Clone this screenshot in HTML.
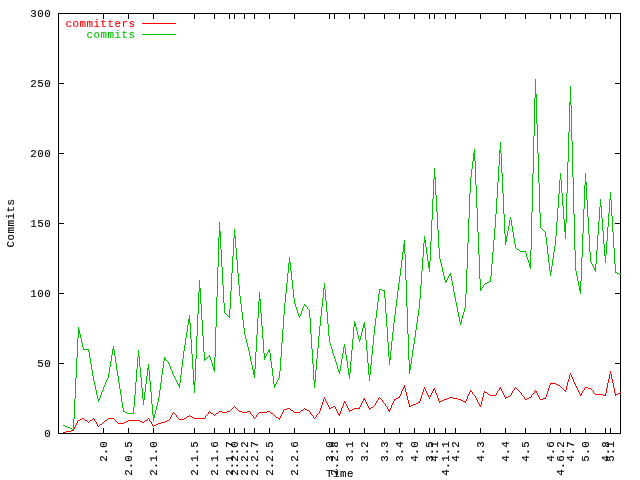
<!DOCTYPE html>
<html><head><meta charset="utf-8"><title>Commits</title>
<style>html,body{margin:0;padding:0;background:#fff}svg{display:block}text{font-family:"Liberation Mono",monospace;font-size:10.8px;letter-spacing:0.52px;fill:#000;stroke:#000;stroke-width:0.12px}</style></head>
<body>
<svg width="640" height="480" viewBox="0 0 640 480">
<rect width="640" height="480" fill="#fff"/>
<g transform="translate(0.5,0.5)" fill="none" stroke-width="1" shape-rendering="crispEdges">
<rect x="58" y="13" width="562" height="420" stroke="#000"/>
</g><g fill="#000" shape-rendering="crispEdges">
<path d="M59 433h5v1h-5zM615 433h5v1h-5zM59 363h5v1h-5zM615 363h5v1h-5zM59 293h5v1h-5zM615 293h5v1h-5zM59 223h5v1h-5zM615 223h5v1h-5zM59 153h5v1h-5zM615 153h5v1h-5zM59 83h5v1h-5zM615 83h5v1h-5zM59 13h5v1h-5zM615 13h5v1h-5zM103 428h1v5h-1zM103 14h1v5h-1zM128 428h1v5h-1zM128 14h1v5h-1zM153 428h1v5h-1zM153 14h1v5h-1zM194 428h1v5h-1zM194 14h1v5h-1zM214 428h1v5h-1zM214 14h1v5h-1zM229 428h1v5h-1zM229 14h1v5h-1zM234 428h1v5h-1zM234 14h1v5h-1zM244 428h1v5h-1zM244 14h1v5h-1zM254 428h1v5h-1zM254 14h1v5h-1zM269 428h1v5h-1zM269 14h1v5h-1zM294 428h1v5h-1zM294 14h1v5h-1zM329 428h1v5h-1zM329 14h1v5h-1zM334 428h1v5h-1zM334 14h1v5h-1zM349 428h1v5h-1zM349 14h1v5h-1zM364 428h1v5h-1zM364 14h1v5h-1zM384 428h1v5h-1zM384 14h1v5h-1zM399 428h1v5h-1zM399 14h1v5h-1zM414 428h1v5h-1zM414 14h1v5h-1zM429 428h1v5h-1zM429 14h1v5h-1zM434 428h1v5h-1zM434 14h1v5h-1zM445 428h1v5h-1zM445 14h1v5h-1zM455 428h1v5h-1zM455 14h1v5h-1zM480 428h1v5h-1zM480 14h1v5h-1zM505 428h1v5h-1zM505 14h1v5h-1zM525 428h1v5h-1zM525 14h1v5h-1zM550 428h1v5h-1zM550 14h1v5h-1zM560 428h1v5h-1zM560 14h1v5h-1zM570 428h1v5h-1zM570 14h1v5h-1zM585 428h1v5h-1zM585 14h1v5h-1zM605 428h1v5h-1zM605 14h1v5h-1zM610 428h1v5h-1zM610 14h1v5h-1z"/>
<path fill="#ff0000" d="M66 431h3v1h-3zM63 432h3v1h-3zM71 430h3v1h-3zM68 431h3v1h-3zM73 429h1v2h-1zM74 427h1v2h-1zM75 425h1v2h-1zM76 423h1v2h-1zM77 421h1v2h-1zM78 420h1v1h-1zM82 418h2v1h-2zM80 419h2v1h-2zM78 420h2v1h-2zM83 418h1v1h-1zM84 419h1v1h-1zM85 420h2v1h-2zM87 421h1v1h-1zM88 422h1v1h-1zM93 418h1v1h-1zM92 419h1v1h-1zM90 420h2v1h-2zM89 421h1v1h-1zM88 422h1v1h-1zM93 418h1v1h-1zM94 419h1v2h-1zM95 421h1v1h-1zM96 422h1v2h-1zM97 424h1v2h-1zM98 426h1v1h-1zM103 422h1v1h-1zM102 423h1v1h-1zM100 424h2v1h-2zM99 425h1v1h-1zM98 426h1v1h-1zM108 418h1v1h-1zM107 419h1v1h-1zM105 420h2v1h-2zM104 421h1v1h-1zM103 422h1v1h-1zM108 418h6v1h-6zM113 418h1v1h-1zM114 419h1v1h-1zM115 420h1v1h-1zM116 421h1v1h-1zM117 422h1v1h-1zM118 423h1v1h-1zM118 423h6v1h-6zM128 420h1v1h-1zM126 421h2v1h-2zM124 422h2v1h-2zM123 423h1v1h-1zM128 420h6v1h-6zM133 420h6v1h-6zM138 420h2v1h-2zM140 421h2v1h-2zM142 422h2v1h-2zM148 418h1v1h-1zM147 419h1v1h-1zM145 420h2v1h-2zM144 421h1v1h-1zM143 422h1v1h-1zM148 418h1v1h-1zM149 419h1v2h-1zM150 421h1v1h-1zM151 422h1v2h-1zM152 424h1v2h-1zM153 426h1v1h-1zM158 423h1v1h-1zM156 424h2v1h-2zM154 425h2v1h-2zM153 426h1v1h-1zM161 422h4v1h-4zM158 423h3v1h-3zM169 419h1v1h-1zM167 420h2v1h-2zM165 421h2v1h-2zM164 422h1v1h-1zM169 419h1v1h-1zM170 417h1v2h-1zM171 415h1v2h-1zM172 413h1v2h-1zM173 412h1v1h-1zM173 412h1v1h-1zM174 413h1v1h-1zM175 414h1v1h-1zM176 415h1v2h-1zM177 417h1v1h-1zM178 418h1v1h-1zM179 419h1v1h-1zM179 419h5v1h-5zM189 415h1v1h-1zM187 416h2v1h-2zM186 417h1v1h-1zM184 418h2v1h-2zM183 419h1v1h-1zM189 415h1v1h-1zM190 416h2v1h-2zM192 417h2v1h-2zM194 418h1v1h-1zM194 418h6v1h-6zM199 418h6v1h-6zM204 418h1v1h-1zM205 416h1v2h-1zM206 415h1v1h-1zM207 414h1v1h-1zM208 412h1v2h-1zM209 411h1v1h-1zM209 411h1v1h-1zM210 412h1v1h-1zM211 413h2v1h-2zM213 414h1v1h-1zM214 415h1v1h-1zM219 411h1v1h-1zM218 412h1v1h-1zM216 413h2v1h-2zM215 414h1v1h-1zM214 415h1v1h-1zM219 411h3v1h-3zM222 412h3v1h-3zM227 411h3v1h-3zM224 412h3v1h-3zM234 406h1v1h-1zM233 407h1v1h-1zM232 408h1v1h-1zM231 409h1v1h-1zM230 410h1v1h-1zM229 411h1v1h-1zM234 406h1v1h-1zM235 407h1v1h-1zM236 408h1v1h-1zM237 409h1v1h-1zM238 410h1v1h-1zM239 411h1v1h-1zM239 411h3v1h-3zM242 412h3v1h-3zM247 411h3v1h-3zM244 412h3v1h-3zM249 411h1v1h-1zM250 412h1v2h-1zM251 414h1v1h-1zM252 415h1v1h-1zM253 416h1v2h-1zM254 418h1v1h-1zM254 418h1v1h-1zM255 417h1v1h-1zM256 415h1v2h-1zM257 414h1v1h-1zM258 413h1v1h-1zM259 412h1v1h-1zM259 412h6v1h-6zM267 411h3v1h-3zM264 412h3v1h-3zM269 411h1v1h-1zM270 412h1v1h-1zM271 413h2v1h-2zM273 414h1v1h-1zM274 415h1v1h-1zM274 415h1v1h-1zM275 416h1v1h-1zM276 417h2v1h-2zM278 418h1v1h-1zM279 419h1v1h-1zM279 418h1v2h-1zM280 416h1v2h-1zM281 414h1v2h-1zM282 412h1v2h-1zM283 410h1v2h-1zM284 409h1v1h-1zM287 408h3v1h-3zM284 409h3v1h-3zM289 408h1v1h-1zM290 409h1v1h-1zM291 410h2v1h-2zM293 411h1v1h-1zM294 412h1v1h-1zM294 412h6v1h-6zM304 408h1v1h-1zM303 409h1v1h-1zM301 410h2v1h-2zM300 411h1v1h-1zM299 412h1v1h-1zM304 408h1v1h-1zM305 409h2v1h-2zM307 410h2v1h-2zM309 411h1v1h-1zM309 411h1v1h-1zM310 412h1v2h-1zM311 414h1v1h-1zM312 415h1v1h-1zM313 416h1v2h-1zM314 418h1v1h-1zM314 418h1v1h-1zM315 417h1v1h-1zM316 415h1v2h-1zM317 414h1v1h-1zM318 413h1v1h-1zM319 412h1v1h-1zM319 411h1v2h-1zM320 408h1v3h-1zM321 405h1v3h-1zM322 402h1v3h-1zM323 399h1v3h-1zM324 397h1v2h-1zM324 397h1v2h-1zM325 399h1v2h-1zM326 401h1v2h-1zM327 403h1v2h-1zM328 405h1v2h-1zM329 407h1v2h-1zM333 406h2v1h-2zM331 407h2v1h-2zM329 408h2v1h-2zM334 406h1v1h-1zM335 407h1v2h-1zM336 409h1v2h-1zM337 411h1v2h-1zM338 413h1v2h-1zM339 415h1v1h-1zM339 414h1v2h-1zM340 411h1v3h-1zM341 408h1v3h-1zM342 406h1v2h-1zM343 403h1v3h-1zM344 401h1v2h-1zM344 401h1v1h-1zM345 402h1v2h-1zM346 404h1v2h-1zM347 406h1v2h-1zM348 408h1v2h-1zM349 410h1v2h-1zM354 408h1v1h-1zM352 409h2v1h-2zM350 410h2v1h-2zM349 411h1v1h-1zM354 408h6v1h-6zM359 407h1v2h-1zM360 405h1v2h-1zM361 403h1v2h-1zM362 401h1v2h-1zM363 399h1v2h-1zM364 398h1v1h-1zM364 398h1v2h-1zM365 400h1v2h-1zM366 402h1v2h-1zM367 404h1v2h-1zM368 406h1v2h-1zM369 408h1v2h-1zM374 405h1v1h-1zM373 406h1v1h-1zM371 407h2v1h-2zM370 408h1v1h-1zM369 409h1v1h-1zM374 405h1v1h-1zM375 403h1v2h-1zM376 401h1v2h-1zM377 400h1v1h-1zM378 398h1v2h-1zM379 397h1v1h-1zM379 397h1v1h-1zM380 398h1v1h-1zM381 399h1v1h-1zM382 400h1v2h-1zM383 402h1v1h-1zM384 403h1v1h-1zM384 403h1v1h-1zM385 404h1v2h-1zM386 406h1v1h-1zM387 407h1v2h-1zM388 409h1v2h-1zM389 411h1v1h-1zM389 410h1v2h-1zM390 408h1v2h-1zM391 405h1v3h-1zM392 403h1v2h-1zM393 401h1v2h-1zM394 399h1v2h-1zM398 397h2v1h-2zM396 398h2v1h-2zM394 399h2v1h-2zM399 396h1v2h-1zM400 394h1v2h-1zM401 391h1v3h-1zM402 389h1v2h-1zM403 387h1v2h-1zM404 385h1v2h-1zM404 385h1v3h-1zM405 388h1v4h-1zM406 392h1v4h-1zM407 396h1v4h-1zM408 400h1v4h-1zM409 404h1v3h-1zM413 404h2v1h-2zM411 405h2v1h-2zM409 406h2v1h-2zM418 402h2v1h-2zM416 403h2v1h-2zM414 404h2v1h-2zM419 401h1v2h-1zM420 398h1v3h-1zM421 395h1v3h-1zM422 392h1v3h-1zM423 389h1v3h-1zM424 387h1v2h-1zM424 387h1v2h-1zM425 389h1v2h-1zM426 391h1v2h-1zM427 393h1v2h-1zM428 395h1v2h-1zM429 397h1v2h-1zM429 397h1v2h-1zM430 395h1v2h-1zM431 393h1v2h-1zM432 391h1v2h-1zM433 389h1v2h-1zM434 388h1v1h-1zM434 388h1v2h-1zM435 390h1v3h-1zM436 393h1v2h-1zM437 395h1v3h-1zM438 398h1v3h-1zM439 401h1v2h-1zM444 399h2v1h-2zM442 400h2v1h-2zM440 401h2v1h-2zM439 402h1v1h-1zM449 397h2v1h-2zM447 398h2v1h-2zM445 399h2v1h-2zM450 397h3v1h-3zM453 398h3v1h-3zM455 398h3v1h-3zM458 399h3v1h-3zM460 399h1v1h-1zM461 400h2v1h-2zM463 401h2v1h-2zM465 402h1v1h-1zM465 401h1v2h-1zM466 399h1v2h-1zM467 396h1v3h-1zM468 394h1v2h-1zM469 392h1v2h-1zM470 390h1v2h-1zM470 390h1v1h-1zM471 391h1v1h-1zM472 392h1v2h-1zM473 394h1v1h-1zM474 395h1v1h-1zM474 395h1v1h-1zM475 396h1v2h-1zM476 398h1v2h-1zM477 400h1v2h-1zM478 402h1v2h-1zM479 404h1v2h-1zM480 406h1v1h-1zM480 405h1v2h-1zM481 401h1v4h-1zM482 397h1v4h-1zM483 393h1v4h-1zM484 391h1v2h-1zM484 391h1v1h-1zM485 392h2v1h-2zM487 393h1v1h-1zM488 394h2v1h-2zM490 395h1v1h-1zM490 395h6v1h-6zM495 395h1v1h-1zM496 393h1v2h-1zM497 391h1v2h-1zM498 390h1v1h-1zM499 388h1v2h-1zM500 387h1v1h-1zM500 387h1v2h-1zM501 389h1v2h-1zM502 391h1v2h-1zM503 393h1v2h-1zM504 395h1v2h-1zM505 397h1v2h-1zM510 395h1v1h-1zM508 396h2v1h-2zM506 397h2v1h-2zM505 398h1v1h-1zM510 395h1v1h-1zM511 393h1v2h-1zM512 391h1v2h-1zM513 390h1v1h-1zM514 388h1v2h-1zM515 387h1v1h-1zM515 387h1v1h-1zM516 388h1v1h-1zM517 389h1v1h-1zM518 390h1v1h-1zM519 391h1v1h-1zM520 392h1v1h-1zM520 392h1v1h-1zM521 393h1v2h-1zM522 395h1v1h-1zM523 396h1v1h-1zM524 397h1v2h-1zM525 399h1v1h-1zM529 397h2v1h-2zM527 398h2v1h-2zM525 399h2v1h-2zM530 397h1v1h-1zM531 395h1v2h-1zM532 394h1v1h-1zM533 393h1v1h-1zM534 391h1v2h-1zM535 390h1v1h-1zM535 390h1v1h-1zM536 391h1v2h-1zM537 393h1v2h-1zM538 395h1v2h-1zM539 397h1v2h-1zM540 399h1v1h-1zM543 398h3v1h-3zM540 399h3v1h-3zM545 397h1v2h-1zM546 394h1v3h-1zM547 391h1v3h-1zM548 388h1v3h-1zM549 385h1v3h-1zM550 383h1v2h-1zM550 383h6v1h-6zM555 383h1v1h-1zM556 384h2v1h-2zM558 385h2v1h-2zM560 386h1v1h-1zM560 386h1v1h-1zM561 387h1v1h-1zM562 388h1v1h-1zM563 389h1v1h-1zM564 390h1v1h-1zM565 391h1v1h-1zM565 390h1v2h-1zM566 386h1v4h-1zM567 382h1v4h-1zM568 379h1v3h-1zM569 375h1v4h-1zM570 373h1v2h-1zM570 373h1v2h-1zM571 375h1v2h-1zM572 377h1v2h-1zM573 379h1v3h-1zM574 382h1v2h-1zM575 384h1v2h-1zM575 385h1v1h-1zM576 386h1v2h-1zM577 388h1v2h-1zM578 390h1v2h-1zM579 392h1v2h-1zM580 394h1v2h-1zM580 395h1v1h-1zM581 393h1v2h-1zM582 391h1v2h-1zM583 390h1v1h-1zM584 388h1v2h-1zM585 387h1v1h-1zM585 387h3v1h-3zM588 388h3v1h-3zM590 388h1v1h-1zM591 389h1v1h-1zM592 390h1v1h-1zM593 391h1v2h-1zM594 393h1v1h-1zM595 394h1v1h-1zM595 394h6v1h-6zM600 394h3v1h-3zM603 395h3v1h-3zM605 393h1v3h-1zM606 388h1v5h-1zM607 383h1v5h-1zM608 379h1v4h-1zM609 374h1v5h-1zM610 371h1v3h-1zM610 371h1v3h-1zM611 374h1v5h-1zM612 379h1v4h-1zM613 383h1v5h-1zM614 388h1v5h-1zM615 393h1v3h-1zM620 392h1v1h-1zM618 393h2v1h-2zM616 394h2v1h-2zM615 395h1v1h-1z"/>
<path fill="#00c000" d="M63 425h2v1h-2zM65 426h2v1h-2zM67 427h2v1h-2zM68 427h2v1h-2zM70 428h2v1h-2zM72 429h2v1h-2zM73 419h1v11h-1zM74 399h1v20h-1zM75 378h1v21h-1zM76 358h1v20h-1zM77 338h1v20h-1zM78 327h1v11h-1zM78 327h1v3h-1zM79 330h1v4h-1zM80 334h1v4h-1zM81 338h1v5h-1zM82 343h1v4h-1zM83 347h1v3h-1zM83 349h6v1h-6zM88 349h1v3h-1zM89 352h1v6h-1zM90 358h1v6h-1zM91 364h1v6h-1zM92 370h1v6h-1zM93 376h1v3h-1zM93 378h1v3h-1zM94 381h1v4h-1zM95 385h1v5h-1zM96 390h1v5h-1zM97 395h1v4h-1zM98 399h1v3h-1zM98 400h1v2h-1zM99 398h1v2h-1zM100 395h1v3h-1zM101 392h1v3h-1zM102 390h1v2h-1zM103 388h1v2h-1zM103 387h1v2h-1zM104 385h1v2h-1zM105 382h1v3h-1zM106 380h1v2h-1zM107 378h1v2h-1zM108 376h1v2h-1zM108 373h1v4h-1zM109 367h1v6h-1zM110 361h1v6h-1zM111 355h1v6h-1zM112 349h1v6h-1zM113 346h1v3h-1zM113 346h1v4h-1zM114 350h1v6h-1zM115 356h1v7h-1zM116 363h1v7h-1zM117 370h1v6h-1zM118 376h1v4h-1zM118 379h1v4h-1zM119 383h1v6h-1zM120 389h1v6h-1zM121 395h1v7h-1zM122 402h1v6h-1zM123 408h1v4h-1zM123 411h2v1h-2zM125 412h2v1h-2zM127 413h2v1h-2zM128 413h6v1h-6zM133 407h1v7h-1zM134 395h1v12h-1zM135 382h1v13h-1zM136 369h1v13h-1zM137 357h1v12h-1zM138 350h1v7h-1zM138 350h1v6h-1zM139 356h1v11h-1zM140 367h1v10h-1zM141 377h1v11h-1zM142 388h1v11h-1zM143 399h1v6h-1zM143 400h1v5h-1zM144 392h1v8h-1zM145 384h1v8h-1zM146 376h1v8h-1zM147 368h1v8h-1zM148 364h1v4h-1zM148 364h1v6h-1zM149 370h1v11h-1zM150 381h1v11h-1zM151 392h1v12h-1zM152 404h1v11h-1zM153 415h1v6h-1zM153 418h1v3h-1zM154 414h1v4h-1zM155 410h1v4h-1zM156 406h1v4h-1zM157 402h1v4h-1zM158 400h1v2h-1zM158 397h1v4h-1zM159 390h1v7h-1zM160 383h1v7h-1zM161 375h1v8h-1zM162 368h1v7h-1zM163 361h1v7h-1zM164 357h1v4h-1zM164 357h1v1h-1zM165 358h1v2h-1zM166 360h1v1h-1zM167 361h1v1h-1zM168 362h1v2h-1zM169 364h1v1h-1zM169 364h1v2h-1zM170 366h1v3h-1zM171 369h1v2h-1zM172 371h1v3h-1zM173 374h1v2h-1zM173 375h1v1h-1zM174 376h1v2h-1zM175 378h1v2h-1zM176 380h1v2h-1zM177 382h1v2h-1zM178 384h1v2h-1zM179 386h1v2h-1zM179 383h1v5h-1zM180 375h1v8h-1zM181 367h1v8h-1zM182 359h1v8h-1zM183 354h1v5h-1zM183 351h1v4h-1zM184 345h1v6h-1zM185 338h1v7h-1zM186 332h1v6h-1zM187 325h1v7h-1zM188 319h1v6h-1zM189 315h1v4h-1zM189 315h1v8h-1zM190 323h1v16h-1zM191 339h1v15h-1zM192 354h1v15h-1zM193 369h1v16h-1zM194 385h1v8h-1zM194 381h1v12h-1zM195 359h1v22h-1zM196 336h1v23h-1zM197 314h1v22h-1zM198 292h1v22h-1zM199 280h1v12h-1zM199 280h1v8h-1zM200 288h1v16h-1zM201 304h1v16h-1zM202 320h1v16h-1zM203 336h1v16h-1zM204 352h1v9h-1zM209 355h1v1h-1zM208 356h1v1h-1zM207 357h1v1h-1zM206 358h1v1h-1zM205 359h1v1h-1zM204 360h1v1h-1zM209 355h1v2h-1zM210 357h1v3h-1zM211 360h1v3h-1zM212 363h1v4h-1zM213 367h1v3h-1zM214 370h1v2h-1zM214 357h1v15h-1zM215 327h1v30h-1zM216 297h1v30h-1zM217 267h1v30h-1zM218 237h1v30h-1zM219 222h1v15h-1zM219 222h1v9h-1zM220 231h1v18h-1zM221 249h1v18h-1zM222 267h1v18h-1zM223 285h1v18h-1zM224 303h1v10h-1zM224 312h1v1h-1zM225 313h1v1h-1zM226 314h1v1h-1zM227 315h1v1h-1zM228 316h1v1h-1zM229 317h1v1h-1zM229 309h1v9h-1zM230 291h1v18h-1zM231 273h1v18h-1zM232 256h1v17h-1zM233 238h1v18h-1zM234 229h1v9h-1zM234 229h1v7h-1zM235 236h1v12h-1zM236 248h1v12h-1zM237 260h1v13h-1zM238 273h1v12h-1zM239 285h1v7h-1zM239 291h1v5h-1zM240 296h1v8h-1zM241 304h1v8h-1zM242 312h1v8h-1zM243 320h1v8h-1zM244 328h1v5h-1zM244 332h1v3h-1zM245 335h1v4h-1zM246 339h1v4h-1zM247 343h1v4h-1zM248 347h1v4h-1zM249 351h1v3h-1zM249 353h1v3h-1zM250 356h1v5h-1zM251 361h1v4h-1zM252 365h1v5h-1zM253 370h1v5h-1zM254 375h1v3h-1zM254 369h1v9h-1zM255 352h1v17h-1zM256 335h1v17h-1zM257 318h1v17h-1zM258 301h1v17h-1zM259 292h1v9h-1zM259 292h1v7h-1zM260 299h1v14h-1zM261 313h1v13h-1zM262 326h1v13h-1zM263 339h1v14h-1zM264 353h1v7h-1zM264 358h1v2h-1zM265 356h1v2h-1zM266 354h1v2h-1zM267 352h1v2h-1zM268 350h1v2h-1zM269 349h1v1h-1zM269 349h1v4h-1zM270 353h1v8h-1zM271 361h1v7h-1zM272 368h1v8h-1zM273 376h1v8h-1zM274 384h1v4h-1zM274 386h1v2h-1zM275 384h1v2h-1zM276 382h1v2h-1zM277 380h1v2h-1zM278 378h1v2h-1zM279 377h1v1h-1zM279 371h1v7h-1zM280 357h1v14h-1zM281 343h1v14h-1zM282 329h1v14h-1zM283 315h1v14h-1zM284 308h1v7h-1zM284 303h1v6h-1zM285 293h1v10h-1zM286 283h1v10h-1zM287 273h1v10h-1zM288 263h1v10h-1zM289 257h1v6h-1zM289 257h1v5h-1zM290 262h1v9h-1zM291 271h1v9h-1zM292 280h1v9h-1zM293 289h1v9h-1zM294 298h1v5h-1zM294 302h1v2h-1zM295 304h1v3h-1zM296 307h1v3h-1zM297 310h1v3h-1zM298 313h1v3h-1zM299 316h1v2h-1zM299 316h1v2h-1zM300 314h1v2h-1zM301 311h1v3h-1zM302 308h1v3h-1zM303 306h1v2h-1zM304 304h1v2h-1zM304 304h1v1h-1zM305 305h1v1h-1zM306 306h1v1h-1zM307 307h1v2h-1zM308 309h1v1h-1zM309 310h1v1h-1zM309 310h1v8h-1zM310 318h1v16h-1zM311 334h1v15h-1zM312 349h1v15h-1zM313 364h1v16h-1zM314 380h1v8h-1zM314 382h1v6h-1zM315 370h1v12h-1zM316 359h1v11h-1zM317 348h1v11h-1zM318 336h1v12h-1zM319 330h1v6h-1zM319 326h1v5h-1zM320 316h1v10h-1zM321 307h1v9h-1zM322 298h1v9h-1zM323 288h1v10h-1zM324 283h1v5h-1zM324 283h1v6h-1zM325 289h1v12h-1zM326 301h1v11h-1zM327 312h1v12h-1zM328 324h1v12h-1zM329 336h1v6h-1zM329 341h1v2h-1zM330 343h1v3h-1zM331 346h1v3h-1zM332 349h1v4h-1zM333 353h1v3h-1zM334 356h1v2h-1zM334 357h1v2h-1zM335 359h1v3h-1zM336 362h1v3h-1zM337 365h1v4h-1zM338 369h1v3h-1zM339 372h1v2h-1zM339 371h1v3h-1zM340 365h1v6h-1zM341 359h1v6h-1zM342 353h1v6h-1zM343 347h1v6h-1zM344 344h1v3h-1zM344 344h1v4h-1zM345 348h1v7h-1zM346 355h1v6h-1zM347 361h1v7h-1zM348 368h1v7h-1zM349 375h1v4h-1zM349 373h1v6h-1zM350 361h1v12h-1zM351 350h1v11h-1zM352 339h1v11h-1zM353 327h1v12h-1zM354 321h1v6h-1zM354 321h1v2h-1zM355 323h1v4h-1zM356 327h1v4h-1zM357 331h1v4h-1zM358 335h1v4h-1zM359 339h1v3h-1zM359 340h1v2h-1zM360 336h1v4h-1zM361 332h1v4h-1zM362 328h1v4h-1zM363 324h1v4h-1zM364 322h1v2h-1zM364 322h1v6h-1zM365 328h1v12h-1zM366 340h1v11h-1zM367 351h1v12h-1zM368 363h1v12h-1zM369 375h1v6h-1zM369 375h1v6h-1zM370 365h1v10h-1zM371 355h1v10h-1zM372 345h1v10h-1zM373 335h1v10h-1zM374 330h1v5h-1zM374 326h1v5h-1zM375 318h1v8h-1zM376 310h1v8h-1zM377 302h1v8h-1zM378 294h1v8h-1zM379 289h1v5h-1zM379 289h3v1h-3zM382 290h3v1h-3zM384 290h1v8h-1zM385 298h1v15h-1zM386 313h1v14h-1zM387 327h1v15h-1zM388 342h1v15h-1zM389 357h1v8h-1zM389 360h1v5h-1zM390 351h1v9h-1zM391 341h1v10h-1zM392 332h1v9h-1zM393 323h1v9h-1zM394 318h1v5h-1zM394 315h1v4h-1zM395 307h1v8h-1zM396 299h1v8h-1zM397 291h1v8h-1zM398 283h1v8h-1zM399 279h1v4h-1zM399 276h1v4h-1zM400 268h1v8h-1zM401 260h1v8h-1zM402 252h1v8h-1zM403 244h1v8h-1zM404 240h1v4h-1zM404 240h1v14h-1zM405 254h1v26h-1zM406 280h1v27h-1zM407 307h1v27h-1zM408 334h1v26h-1zM409 360h1v14h-1zM409 370h1v4h-1zM410 364h1v6h-1zM411 357h1v7h-1zM412 350h1v7h-1zM413 344h1v6h-1zM414 340h1v4h-1zM414 337h1v4h-1zM415 330h1v7h-1zM416 323h1v7h-1zM417 316h1v7h-1zM418 309h1v7h-1zM419 305h1v4h-1zM419 299h1v7h-1zM420 285h1v14h-1zM421 271h1v14h-1zM422 257h1v14h-1zM423 243h1v14h-1zM424 236h1v7h-1zM424 236h1v4h-1zM425 240h1v7h-1zM426 247h1v7h-1zM427 254h1v7h-1zM428 261h1v7h-1zM429 268h1v4h-1zM429 261h1v11h-1zM430 241h1v20h-1zM431 220h1v21h-1zM432 199h1v21h-1zM433 179h1v20h-1zM434 168h1v11h-1zM434 168h1v9h-1zM435 177h1v18h-1zM436 195h1v17h-1zM437 212h1v18h-1zM438 230h1v18h-1zM439 248h1v9h-1zM439 256h1v3h-1zM440 259h1v4h-1zM441 263h1v4h-1zM442 267h1v5h-1zM443 272h1v4h-1zM444 276h1v4h-1zM445 280h1v3h-1zM445 282h1v1h-1zM446 280h1v2h-1zM447 278h1v2h-1zM448 276h1v2h-1zM449 274h1v2h-1zM450 273h1v1h-1zM450 273h1v3h-1zM451 276h1v5h-1zM452 281h1v5h-1zM453 286h1v6h-1zM454 292h1v5h-1zM455 297h1v3h-1zM455 299h1v3h-1zM456 302h1v5h-1zM457 307h1v5h-1zM458 312h1v5h-1zM459 317h1v5h-1zM460 322h1v3h-1zM460 323h1v2h-1zM461 319h1v4h-1zM462 315h1v4h-1zM463 312h1v3h-1zM464 308h1v4h-1zM465 306h1v2h-1zM465 294h1v13h-1zM466 269h1v25h-1zM467 243h1v26h-1zM468 218h1v25h-1zM469 193h1v25h-1zM470 180h1v13h-1zM470 177h1v4h-1zM471 169h1v8h-1zM472 161h1v8h-1zM473 153h1v8h-1zM474 149h1v4h-1zM474 149h1v12h-1zM475 161h1v24h-1zM476 185h1v23h-1zM477 208h1v24h-1zM478 232h1v23h-1zM479 255h1v24h-1zM480 279h1v12h-1zM480 290h1v1h-1zM481 288h1v2h-1zM482 287h1v1h-1zM483 285h1v2h-1zM484 284h1v1h-1zM489 281h2v1h-2zM487 282h2v1h-2zM485 283h2v1h-2zM484 284h1v1h-1zM490 276h1v6h-1zM491 264h1v12h-1zM492 252h1v12h-1zM493 240h1v12h-1zM494 228h1v12h-1zM495 222h1v6h-1zM495 214h1v9h-1zM496 198h1v16h-1zM497 182h1v16h-1zM498 166h1v16h-1zM499 150h1v16h-1zM500 142h1v8h-1zM500 142h1v11h-1zM501 153h1v20h-1zM502 173h1v20h-1zM503 193h1v21h-1zM504 214h1v20h-1zM505 234h1v11h-1zM505 242h1v3h-1zM506 236h1v6h-1zM507 231h1v5h-1zM508 226h1v5h-1zM509 220h1v6h-1zM510 217h1v3h-1zM510 217h1v3h-1zM511 220h1v6h-1zM512 226h1v6h-1zM513 232h1v6h-1zM514 238h1v6h-1zM515 244h1v4h-1zM515 247h1v1h-1zM516 248h1v1h-1zM517 249h2v1h-2zM519 250h1v1h-1zM520 251h1v1h-1zM520 251h6v1h-6zM525 251h1v2h-1zM526 253h1v4h-1zM527 257h1v3h-1zM528 260h1v3h-1zM529 263h1v4h-1zM530 267h1v2h-1zM530 250h1v19h-1zM531 212h1v38h-1zM532 174h1v38h-1zM533 136h1v38h-1zM534 98h1v38h-1zM535 79h1v19h-1zM535 79h1v15h-1zM536 94h1v30h-1zM537 124h1v29h-1zM538 153h1v30h-1zM539 183h1v30h-1zM540 213h1v15h-1zM540 227h1v1h-1zM541 228h1v1h-1zM542 229h1v1h-1zM543 230h1v1h-1zM544 231h1v1h-1zM545 232h1v1h-1zM545 232h1v5h-1zM546 237h1v8h-1zM547 245h1v9h-1zM548 254h1v9h-1zM549 263h1v8h-1zM550 271h1v5h-1zM550 272h1v4h-1zM551 266h1v6h-1zM552 259h1v7h-1zM553 252h1v7h-1zM554 246h1v6h-1zM555 242h1v4h-1zM555 236h1v7h-1zM556 222h1v14h-1zM557 208h1v14h-1zM558 194h1v14h-1zM559 180h1v14h-1zM560 173h1v7h-1zM560 173h1v7h-1zM561 180h1v13h-1zM562 193h1v13h-1zM563 206h1v13h-1zM564 219h1v13h-1zM565 232h1v7h-1zM565 223h1v16h-1zM566 193h1v30h-1zM567 162h1v31h-1zM568 132h1v30h-1zM569 102h1v30h-1zM570 86h1v16h-1zM570 86h1v19h-1zM571 105h1v36h-1zM572 141h1v36h-1zM573 177h1v37h-1zM574 214h1v36h-1zM575 250h1v19h-1zM575 268h1v3h-1zM576 271h1v5h-1zM577 276h1v5h-1zM578 281h1v5h-1zM579 286h1v5h-1zM580 291h1v3h-1zM580 281h1v13h-1zM581 257h1v24h-1zM582 233h1v24h-1zM583 209h1v24h-1zM584 185h1v24h-1zM585 173h1v12h-1zM585 173h1v9h-1zM586 182h1v18h-1zM587 200h1v17h-1zM588 217h1v17h-1zM589 234h1v18h-1zM590 252h1v9h-1zM590 260h1v2h-1zM591 262h1v2h-1zM592 264h1v2h-1zM593 266h1v2h-1zM594 268h1v2h-1zM595 270h1v2h-1zM595 264h1v8h-1zM596 250h1v14h-1zM597 235h1v15h-1zM598 221h1v14h-1zM599 207h1v14h-1zM600 199h1v8h-1zM600 199h1v7h-1zM601 206h1v12h-1zM602 218h1v13h-1zM603 231h1v13h-1zM604 244h1v12h-1zM605 256h1v7h-1zM605 255h1v8h-1zM606 241h1v14h-1zM607 227h1v14h-1zM608 213h1v14h-1zM609 199h1v14h-1zM610 192h1v7h-1zM610 192h1v8h-1zM611 200h1v16h-1zM612 216h1v16h-1zM613 232h1v16h-1zM614 248h1v16h-1zM615 264h1v9h-1zM615 272h2v1h-2zM617 273h2v1h-2zM619 274h2v1h-2z"/>
</g>
<g shape-rendering="crispEdges"><rect x="142" y="23" width="34" height="1" fill="#ff0000"/><rect x="142" y="34" width="34" height="1" fill="#00c000"/></g>
<text x="51.2" y="437" text-anchor="end">0</text>
<text x="51.2" y="367" text-anchor="end">50</text>
<text x="51.2" y="297" text-anchor="end">100</text>
<text x="51.2" y="227" text-anchor="end">150</text>
<text x="51.2" y="157" text-anchor="end">200</text>
<text x="51.2" y="87" text-anchor="end">250</text>
<text x="51.2" y="17" text-anchor="end">300</text>
<text transform="translate(107.0,440.8) rotate(-90)" text-anchor="end">2.0</text>
<text transform="translate(132.0,440.8) rotate(-90)" text-anchor="end">2.0.5</text>
<text transform="translate(157.0,440.8) rotate(-90)" text-anchor="end">2.1.0</text>
<text transform="translate(198.0,440.8) rotate(-90)" text-anchor="end">2.1.5</text>
<text transform="translate(218.0,440.8) rotate(-90)" text-anchor="end">2.1.6</text>
<text transform="translate(233.0,440.8) rotate(-90)" text-anchor="end">2.1.7</text>
<text transform="translate(238.0,440.8) rotate(-90)" text-anchor="end">2.2.0</text>
<text transform="translate(248.0,440.8) rotate(-90)" text-anchor="end">2.2.2</text>
<text transform="translate(258.0,440.8) rotate(-90)" text-anchor="end">2.2.7</text>
<text transform="translate(273.0,440.8) rotate(-90)" text-anchor="end">2.2.5</text>
<text transform="translate(298.0,440.8) rotate(-90)" text-anchor="end">2.2.6</text>
<text transform="translate(333.0,440.8) rotate(-90)" text-anchor="end">3.0</text>
<text transform="translate(338.0,440.8) rotate(-90)" text-anchor="end">2.2.8</text>
<text transform="translate(353.0,440.8) rotate(-90)" text-anchor="end">3.1</text>
<text transform="translate(368.0,440.8) rotate(-90)" text-anchor="end">3.2</text>
<text transform="translate(388.0,440.8) rotate(-90)" text-anchor="end">3.3</text>
<text transform="translate(403.0,440.8) rotate(-90)" text-anchor="end">3.4</text>
<text transform="translate(418.0,440.8) rotate(-90)" text-anchor="end">4.0</text>
<text transform="translate(433.0,440.8) rotate(-90)" text-anchor="end">3.5</text>
<text transform="translate(438.0,440.8) rotate(-90)" text-anchor="end">4.1</text>
<text transform="translate(449.0,440.8) rotate(-90)" text-anchor="end">4.1.1</text>
<text transform="translate(459.0,440.8) rotate(-90)" text-anchor="end">4.2</text>
<text transform="translate(484.0,440.8) rotate(-90)" text-anchor="end">4.3</text>
<text transform="translate(509.0,440.8) rotate(-90)" text-anchor="end">4.4</text>
<text transform="translate(529.0,440.8) rotate(-90)" text-anchor="end">4.5</text>
<text transform="translate(554.0,440.8) rotate(-90)" text-anchor="end">4.6</text>
<text transform="translate(564.0,440.8) rotate(-90)" text-anchor="end">4.6.2</text>
<text transform="translate(574.0,440.8) rotate(-90)" text-anchor="end">4.7</text>
<text transform="translate(589.0,440.8) rotate(-90)" text-anchor="end">5.0</text>
<text transform="translate(609.0,440.8) rotate(-90)" text-anchor="end">4.8</text>
<text transform="translate(614.0,440.8) rotate(-90)" text-anchor="end">5.1</text>
<text x="340" y="477" text-anchor="middle">Time</text>
<text transform="translate(14,223) rotate(-90)" text-anchor="middle">Commits</text>
<text x="135.5" y="27" text-anchor="end" style="fill:#ff0000;stroke:#ff0000">committers</text>
<text x="135.5" y="38" text-anchor="end" style="fill:#00c000;stroke:#00c000">commits</text>
</svg></body></html>
